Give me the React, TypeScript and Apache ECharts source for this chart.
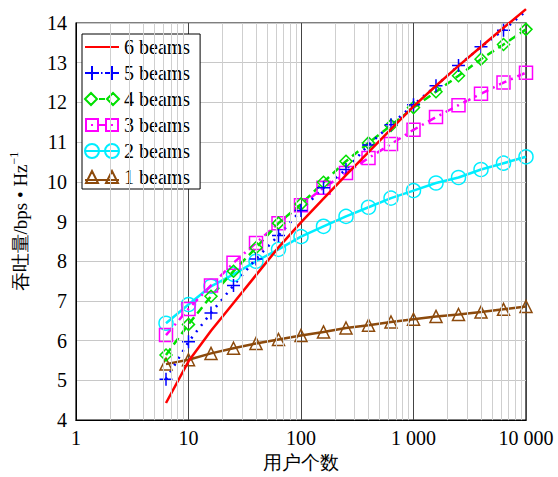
import React, { useEffect, useRef } from "react";
import * as echarts from "echarts";

const xUsers = [6.31, 10, 15.85, 25.12, 39.81, 63.1, 100, 158.5, 251.2, 398.1, 631, 1000, 1585, 2512, 3981, 6310, 10000];
const beams6 = [4.43, 5.48, 6.25, 6.95, 7.65, 8.35, 8.98, 9.58, 10.17, 10.75, 11.33, 11.9, 12.42, 12.92, 13.4, 13.88, 14.35];
const beams5 = [5.03, 5.97, 6.7, 7.39, 8.06, 8.65, 9.28, 9.85, 10.31, 10.93, 11.44, 11.94, 12.42, 12.93, 13.4, 13.82, 14.3];
const beams4 = [5.64, 6.41, 7.12, 7.75, 8.34, 8.96, 9.44, 9.99, 10.52, 10.98, 11.42, 11.87, 12.27, 12.67, 13.09, 13.46, 13.84];
const beams3 = [6.14, 6.8, 7.39, 7.96, 8.46, 8.96, 9.41, 9.85, 10.22, 10.6, 10.95, 11.31, 11.63, 11.93, 12.22, 12.5, 12.75];
const beams2 = [6.44, 6.91, 7.37, 7.67, 8.0, 8.3, 8.62, 8.88, 9.13, 9.36, 9.59, 9.78, 9.97, 10.11, 10.31, 10.47, 10.63];
const beams1 = [5.41, 5.52, 5.68, 5.81, 5.93, 6.03, 6.13, 6.22, 6.32, 6.39, 6.47, 6.54, 6.61, 6.66, 6.72, 6.79, 6.86];
const seriesNames = ["6 beams", "5 beams", "4 beams", "3 beams", "2 beams", "1 beams"];
const xTickValues = [1, 10, 100, 1000, 10000];
const xTickLabels = ["1", "10", "100", "1 000", "10 000"];
const minorXLines = [2, 3, 4, 5, 6, 7, 8, 9, 20, 30, 40, 50, 60, 70, 80, 90, 200, 300, 400, 500, 600, 700, 800, 900, 2000, 3000, 4000, 5000, 6000, 7000, 8000, 9000];

const FONT = "Times New Roman, serif";
const PLUS = "path://M5 0 L5 10 M0 5 L10 5";

// legend icons (line with a marker at each end), drawn in a 34 x 14 box
const legendIcons: Record<string, string | null> = {
  "6 beams": null,
  "5 beams": "path://M0 7 L14 7 M7 0 L7 14 M20 7 L34 7 M27 0 L27 14 M16 7 L17.5 7",
  "4 beams": "path://M0 7 L6 1 L12 7 L6 13 Z M22 7 L28 1 L34 7 L28 13 Z M14 7 L20 7 M0 0 L0 0.01 M34 14 L34 13.99",
  "3 beams": "path://M1 1 L13 1 L13 13 L1 13 Z M21 1 L33 1 L33 13 L21 13 Z M14 7 L20 7 M6 7 L8 7 M26 7 L28 7 M0 0 L0 0.01 M34 14 L34 13.99",
  "2 beams": "path://M0 7 A7 7 0 1 1 14 7 A7 7 0 1 1 0 7 Z M20 7 A7 7 0 1 1 34 7 A7 7 0 1 1 20 7 Z M0 7 L34 7",
  "1 beams": "path://M1 13 L7 1 L13 13 Z M21 13 L27 1 L33 13 Z M0 10 L34 10 M0 0 L0 0.01 M34 14 L34 13.99",
};

function pairs(vals: number[]) {
  return xUsers.map((x, i) => [x, vals[i]]);
}

export default function App() {
  const ref = useRef<HTMLDivElement>(null);
  useEffect(() => {
    if (!ref.current) return;
    const chart = echarts.init(ref.current, undefined, { renderer: "svg" });
    const blueData: any[] = pairs(beams5);
    blueData[blueData.length - 1] = { value: blueData[blueData.length - 1], symbol: "none" };
    chart.setOption({
      animation: false,
      backgroundColor: "#fff",
      textStyle: { fontFamily: FONT },
      grid: { left: 70, right: 32, top: 23, bottom: 56, show: true, borderColor: "#000", borderWidth: 1.2, backgroundColor: "transparent" },
      legend: {
        data: seriesNames.map((n) =>
          legendIcons[n] ? { name: n, icon: legendIcons[n] } : { name: n, itemStyle: { opacity: 0 } }
        ),
        orient: "vertical",
        left: 82,
        top: 34,
        padding: [3, 10, 2, 2],
        itemWidth: 34,
        itemHeight: 14,
        itemGap: 6,
        backgroundColor: "#fff",
        borderColor: "#000",
        borderWidth: 1,
        textStyle: { fontFamily: FONT, fontSize: 20, color: "#000", lineHeight: 20 },
      },
      xAxis: {
        type: "log",
        logBase: 10,
        min: 1,
        max: 10000,
        name: "用户个数",
        nameLocation: "middle",
        nameGap: 30,
        nameTextStyle: { fontFamily: FONT, fontSize: 19, color: "#000" },
        axisLine: { show: true, lineStyle: { color: "#000" } },
        axisTick: { show: false },
        axisLabel: {
          fontFamily: FONT,
          fontSize: 20,
          color: "#000",
          margin: 8,
          formatter: (v: number) => {
            const i = xTickValues.indexOf(Math.round(v));
            return i >= 0 ? xTickLabels[i] : "";
          },
        },
        splitLine: { show: true, lineStyle: { color: "#444", width: 1 } },
      },
      yAxis: {
        type: "value",
        min: 4,
        max: 14,
        interval: 1,
        name: "{a|吞吐量/bps • Hz}{b|−1}",
        nameLocation: "middle",
        nameRotate: 90,
        nameGap: 44,
        nameTextStyle: {
          fontFamily: FONT,
          color: "#000",
          rich: {
            a: { fontFamily: FONT, fontSize: 19, color: "#000" },
            b: { fontFamily: FONT, fontSize: 12, color: "#000", padding: [0, 0, 12, 0] },
          },
        },
        axisLine: { show: true, lineStyle: { color: "#000" } },
        axisTick: { show: false },
        axisLabel: { fontFamily: FONT, fontSize: 20, color: "#000", margin: 9 },
        splitLine: { show: true, lineStyle: { color: "#c8c8c8", width: 1 } },
      },
      series: [
        {
          name: "minor",
          type: "line",
          data: [],
          silent: true,
          z: 1,
          markLine: {
            silent: true,
            symbol: "none",
            label: { show: false },
            lineStyle: { color: "#cfcfcf", type: "solid", width: 1 },
            data: minorXLines.map((v) => ({ xAxis: v })),
          },
        },
        {
          name: "1 beams",
          type: "line",
          data: pairs(beams1),
          symbol: "triangle",
          symbolSize: 12,
          lineStyle: { color: "#8c4a0c", width: 2.5 },
          itemStyle: { color: "rgba(0,0,0,0)", borderColor: "#8c4a0c", borderWidth: 1.5 },
          z: 3,
        },
        {
          name: "2 beams",
          type: "line",
          data: pairs(beams2),
          symbol: "circle",
          symbolSize: 14,
          lineStyle: { color: "#00eeff", width: 2.5 },
          itemStyle: { color: "rgba(0,0,0,0)", borderColor: "#00eeff", borderWidth: 1.5 },
          z: 3,
        },
        {
          name: "3 beams",
          type: "line",
          data: pairs(beams3),
          symbol: "rect",
          symbolSize: 13,
          lineStyle: { color: "#ff00ff", width: 2.5, type: [8, 5, 2, 5] },
          itemStyle: { color: "rgba(0,0,0,0)", borderColor: "#ff00ff", borderWidth: 1.5 },
          z: 3,
        },
        {
          name: "4 beams",
          type: "line",
          data: pairs(beams4),
          symbol: "diamond",
          symbolSize: 12,
          lineStyle: { color: "#00e000", width: 2.5, type: [8, 5] },
          itemStyle: { color: "rgba(0,0,0,0)", borderColor: "#00e000", borderWidth: 1.5 },
          z: 3,
        },
        {
          name: "5 beams",
          type: "line",
          data: blueData,
          clip: false,
          symbol: PLUS,
          symbolSize: 13,
          lineStyle: { color: "#0000ff", width: 2.5, type: [2, 6] },
          itemStyle: { color: "rgba(0,0,0,0)", borderColor: "#0000ff", borderWidth: 1.5 },
          z: 3,
        },
        {
          name: "6 beams",
          type: "line",
          data: pairs(beams6),
          clip: false,
          showSymbol: false,
          symbol: "none",
          lineStyle: { color: "#ff0000", width: 2.5 },
          itemStyle: { color: "#ff0000" },
          z: 4,
        },
      ],
    });
    return () => chart.dispose();
  }, []);
  return <div ref={ref} style={{ position: "fixed", left: 0, top: 0, width: 558, height: 477 }} />;
}
